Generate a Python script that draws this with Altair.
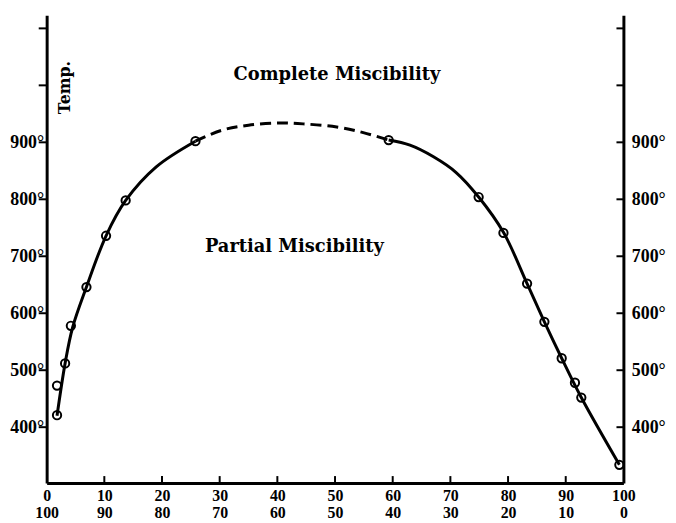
import altair as alt
import pandas as pd

# observed points (composition %, temperature °C)
pt_x = [1.8, 1.8, 3.2, 4.2, 6.9, 10.3, 13.7, 25.8, 59.3, 74.9, 79.2, 83.3, 86.3, 89.3, 91.6, 92.7, 99.3]
pt_t = [421, 473, 512, 578, 646, 736, 798, 902, 904, 804, 741, 652, 585, 521, 478, 452, 334]

# curve
solid_left_x = [1.8, 3.2, 4.5, 6.9, 10.3, 13.7, 19.0, 25.8]
solid_left_t = [420, 512, 575, 646, 736, 798, 857, 902]
dash_x = [25.8, 30.3, 35.0, 40.5, 45.0, 50.3, 54.9, 59.3]
dash_t = [902, 921, 930, 934, 932, 927, 917, 904]
solid_right_x = [59.3, 63.0, 67.0, 71.0, 74.9, 79.2, 83.3, 86.3, 89.3, 92.7, 99.3]
solid_right_t = [904, 895, 875, 847, 804, 742, 652, 585, 521, 452, 334]

x_ticks = [0, 10, 20, 30, 40, 50, 60, 70, 80, 90, 100]
y_ticks = [400, 500, 600, 700, 800, 900, 1000, 1100]

W, H = 582, 472
FONT = "DejaVu Serif"
NUMFONT = "Liberation Serif"

xs = alt.Scale(domain=[0, 100], nice=False, zero=False)
ys = alt.Scale(domain=[302, 1123], nice=False, zero=False)

seg = pd.DataFrame(
    {"x": solid_left_x + dash_x + solid_right_x,
     "t": solid_left_t + dash_t + solid_right_t,
     "part": ["a"] * len(solid_left_x) + ["b"] * len(dash_x) + ["c"] * len(solid_right_x)}
)
pts = pd.DataFrame({"x": pt_x, "t": pt_t})
xt = pd.DataFrame({"v": x_ticks})
yt = pd.DataFrame({"v": y_ticks})
one = pd.DataFrame({"k": [0]})

x_axis = alt.Axis(values=x_ticks, ticks=False, grid=False, domainWidth=3, domainColor="black",
                  labelExpr="[datum.label, '' + (100 - datum.value)]", labelFont=NUMFONT,
                  labelFontWeight="bold", labelFontSize=16, labelColor="black", labelPadding=5,
                  labelLineHeight=17, title=None, labelFlush=False)
y_axis_left = alt.Axis(values=y_ticks, grid=False, domainWidth=3, domainColor="black",
                       ticks=False,
                       labelExpr="datum.value <= 900 ? datum.label + '°' : ''",
                       labelFont=NUMFONT, labelFontWeight="bold", labelFontSize=18,
                       labelColor="black", labelPadding=3, title=None)
y_axis_right = alt.Axis(orient="right", values=y_ticks, grid=False, domainWidth=3,
                        domainColor="black", ticks=False,
                        labelExpr="datum.value <= 900 ? datum.label + '°' : ''",
                        labelFont=NUMFONT, labelFontWeight="bold", labelFontSize=18,
                        labelColor="black", labelPadding=8, title=None)

base = alt.Chart(seg)

line_solid = base.transform_filter("datum.part != 'b'").mark_line(
    color="black", strokeWidth=3, interpolate="catmull-rom"
).encode(
    x=alt.X("x:Q", scale=xs, axis=x_axis),
    y=alt.Y("t:Q", scale=ys, axis=y_axis_left),
    detail="part:N",
)

line_dash = base.transform_filter("datum.part == 'b'").mark_line(
    color="black", strokeWidth=3, strokeDash=[11, 6], interpolate="catmull-rom"
).encode(
    x=alt.X("x:Q", scale=xs),
    y=alt.Y("t:Q", scale=ys, axis=None),
)

points = alt.Chart(pts).mark_point(
    shape="circle", size=70, filled=False, color="black", strokeWidth=2, opacity=1
).encode(x=alt.X("x:Q", scale=xs), y=alt.Y("t:Q", scale=ys, axis=None))

right_axis_layer = alt.Chart(pts).mark_point(opacity=0).encode(
    x=alt.X("x:Q", scale=xs),
    y=alt.Y("t:Q", scale=ys, axis=y_axis_right),
)

x_tick_marks = alt.Chart(xt).transform_filter("datum.v > 0 && datum.v < 100").mark_rule(
    color="black", strokeWidth=2
).encode(x=alt.X("v:Q", scale=xs), y=alt.value(H), y2=alt.value(H - 7))

y_tick_right = alt.Chart(yt).mark_rule(color="black", strokeWidth=2).encode(
    y=alt.Y("v:Q", scale=ys, axis=None), x=alt.value(W - 7), x2=alt.value(W)
)

y_tick_left = alt.Chart(yt).mark_rule(color="black", strokeWidth=2).encode(
    y=alt.Y("v:Q", scale=ys, axis=None), x=alt.value(-8), x2=alt.value(0)
)

txt_complete = alt.Chart(one).mark_text(
    text="Complete Miscibility", font=FONT, fontWeight="bold", fontSize=18, color="black"
).encode(x=alt.value(293), y=alt.value(60))

txt_partial = alt.Chart(one).mark_text(
    text="Partial Miscibility", font=FONT, fontWeight="bold", fontSize=18, color="black"
).encode(x=alt.value(250), y=alt.value(234))

txt_temp = alt.Chart(one).mark_text(
    text="Temp.", font=FONT, fontWeight="bold", fontSize=16, color="black", angle=270
).encode(x=alt.value(19), y=alt.value(73))

chart = alt.layer(
    line_solid, line_dash, points, right_axis_layer, x_tick_marks, y_tick_right, y_tick_left,
    txt_complete, txt_partial, txt_temp
).resolve_axis(y="independent").properties(
    width=W, height=H,
    autosize=alt.AutoSizeParams(type="none"),
    padding={"left": 39, "top": 5, "right": 45, "bottom": 38},
    background="white",
).configure_view(stroke=None)

chart.save("out.html", embed_options={"renderer": "svg", "actions": False})
